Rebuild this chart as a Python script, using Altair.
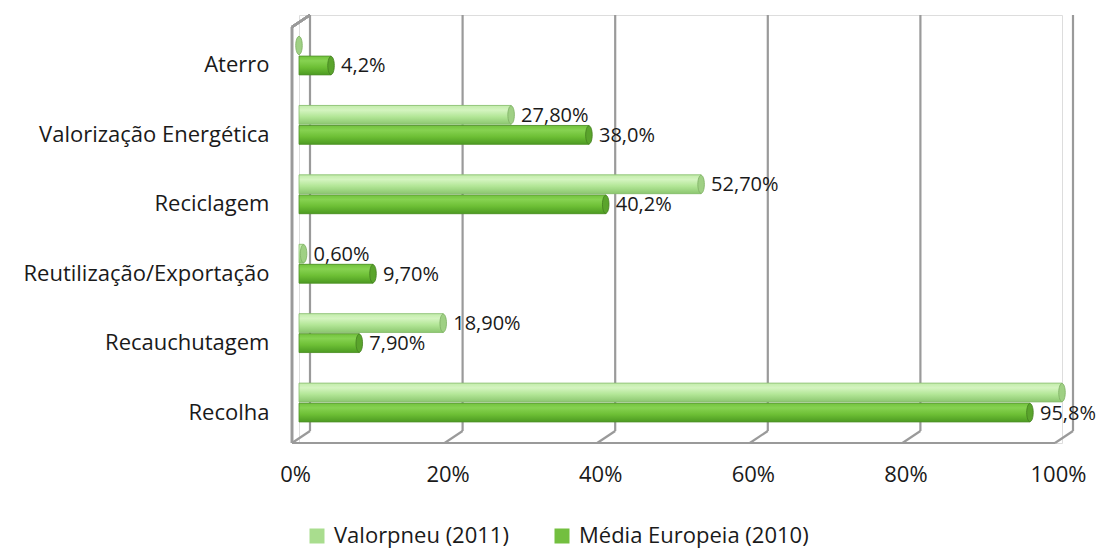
import altair as alt
import pandas as pd

categories = ["Aterro", "Valorização Energética", "Reciclagem",
              "Reutilização/Exportação", "Recauchutagem", "Recolha"]
series_names = ["Valorpneu (2011)", "Média Europeia (2010)"]
valorpneu = [0.0, 27.8, 52.7, 0.6, 18.9, 100.0]
media_eu = [4.2, 38.0, 40.2, 9.7, 7.9, 95.8]
valorpneu_labels = ["", "27,80%", "52,70%", "0,60%", "18,90%", ""]
media_labels = ["4,2%", "38,0%", "40,2%", "9,70%", "7,90%", "95,8%"]
x_ticks = [0, 20, 40, 60, 80, 100]

rows = []
for i, c in enumerate(categories):
    rows.append({"cat": c, "series": series_names[0], "value": valorpneu[i], "label": valorpneu_labels[i]})
    rows.append({"cat": c, "series": series_names[1], "value": media_eu[i], "label": media_labels[i]})
df = pd.DataFrame(rows)
ticks_df = pd.DataFrame({"t": x_ticks})

FONT = "Open Sans"
FS = 22
TXT = "#1a1a1a"
W, H = 763, 428
BACK, FRONT = 11, -7
GRID = "#9a9a9a"

xscale = alt.Scale(domain=[0, 100], nice=False, zero=True)
yenc = alt.Y("cat:N", sort=categories, title=None,
             scale=alt.Scale(paddingInner=0.44, paddingOuter=0.303),
             axis=alt.Axis(domain=False, ticks=False, labelPadding=30, labelOffset=10,
                           labelFontSize=FS, labelFont=FONT, labelColor=TXT,
                           labelLimit=400))
yoff = alt.YOffset("series:N", sort=series_names, scale=alt.Scale(paddingInner=0.06))
xenc = alt.X("value:Q", scale=xscale, title=None,
             axis=alt.Axis(values=x_ticks, domain=False, ticks=False, grid=False,
                           labelExpr="datum.value + '%'", labelFontSize=FS, labelFont=FONT,
                           labelColor=TXT, labelPadding=21, labelOffset=-4,
                           labelFlush=False))

# back wall gridlines
grid_back = alt.Chart(ticks_df).mark_rule(color=GRID, strokeWidth=2.2, xOffset=BACK).encode(
    x=alt.X("t:Q", scale=xscale), y=alt.value(0), y2=alt.value(H - 12))
# floor diagonals
grid_diag = alt.Chart(ticks_df).mark_rule(color=GRID, strokeWidth=2.2, xOffset=FRONT, x2Offset=BACK).encode(
    x=alt.X("t:Q", scale=xscale), x2="t:Q", y=alt.value(H), y2=alt.value(H - 12))
# front floor line
floor_front = alt.Chart(ticks_df).mark_rule(color=GRID, strokeWidth=2.2, xOffset=FRONT, x2Offset=FRONT).encode(
    x=alt.datum(0, scale=xscale), x2=alt.datum(100), y=alt.value(H))
# left wall front edge and top
wall_front = alt.Chart(ticks_df).mark_rule(color=GRID, strokeWidth=2.2, xOffset=FRONT).encode(
    x=alt.datum(0, scale=xscale), y=alt.value(12), y2=alt.value(H))
wall_top = alt.Chart(ticks_df).mark_rule(color=GRID, strokeWidth=2.2, xOffset=FRONT, x2Offset=BACK).encode(
    x=alt.datum(0, scale=xscale), x2=alt.datum(0), y=alt.value(12), y2=alt.value(0))

base = alt.Chart(df)

bars_solid = base.mark_bar(strokeWidth=0).encode(
    y=yenc, yOffset=yoff, x=xenc,
    color=alt.Color("series:N", sort=series_names,
                    scale=alt.Scale(domain=series_names, range=["#a9dd8e", "#73bf3f"]),
                    legend=alt.Legend(orient="none", legendX=7, legendY=510, direction="horizontal",
                                      title=None, symbolType="square", symbolSize=225,
                                      symbolStrokeWidth=0, labelFontSize=FS, labelFont=FONT,
                                      labelColor=TXT, columnPadding=42, labelOffset=6,
                                      labelLimit=400)))

def grad(stops):
    return alt.Gradient(gradient="linear", x1=0, y1=0, x2=0, y2=1,
                        stops=[alt.GradientStop(offset=o, color=c) for o, c in stops])

g_light = grad([(0, "#c2ecaa"), (0.25, "#d4f4c0"), (0.6, "#b2e696"), (1, "#8cc670")])
g_dark = grad([(0, "#72c23c"), (0.25, "#86d251"), (0.6, "#6dbf35"), (1, "#4c9a22")])

bars_light = base.transform_filter(alt.datum.series == series_names[0]).mark_bar(
    fill=g_light, stroke="#88bd6f", strokeWidth=0.8).encode(y=yenc, yOffset=yoff, x=xenc)
bars_dark = base.transform_filter(alt.datum.series == series_names[1]).mark_bar(
    fill=g_dark, stroke="#4f8f2a", strokeWidth=0.8).encode(y=yenc, yOffset=yoff, x=xenc)

ELLIPSE = "M0,-1 A0.36,1 0 1,1 0,1 A0.36,1 0 1,1 0,-1 Z"
caps_light = base.transform_filter(alt.datum.series == series_names[0]).mark_point(
    shape=ELLIPSE, size=330, filled=True, fill="#9fd084", stroke="#7cae62", strokeWidth=0.8,
    opacity=1).encode(y=yenc, yOffset=yoff, x=xenc)
caps_dark = base.transform_filter(alt.datum.series == series_names[1]).mark_point(
    shape=ELLIPSE, size=330, filled=True, fill="#5aa42c", stroke="#437d1f", strokeWidth=0.8,
    opacity=1).encode(y=yenc, yOffset=yoff, x=xenc)

labels = base.mark_text(align="left", baseline="middle", dx=10, dy=1, fontSize=20,
                        font=FONT, color=TXT).encode(
    y=yenc, yOffset=yoff, x=xenc, text="label:N")

chart = alt.layer(grid_back, grid_diag, floor_front, wall_front, wall_top,
                  bars_solid, bars_light, bars_dark, caps_light, caps_dark, labels).properties(
    width=W, height=H,
    padding={"left": 291, "top": 7, "right": 35, "bottom": 106},
    autosize=alt.AutoSizeParams(type="none"),
).configure_view(stroke=None).configure(background="white")

chart.save("out.html", embed_options={"renderer": "svg", "actions": False})
